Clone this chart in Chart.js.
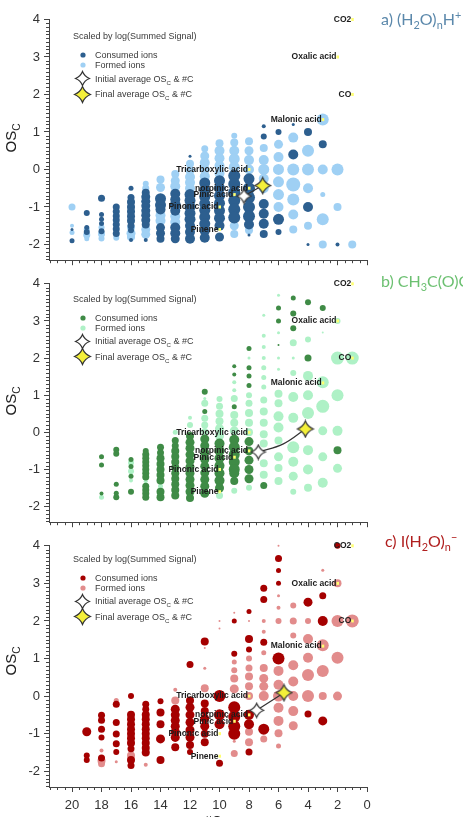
<!DOCTYPE html>
<html>
<head>
<meta charset="utf-8">
<title>OSc vs #C</title>
<script src="https://cdn.jsdelivr.net/npm/chart.js@4.4.1/dist/chart.umd.min.js"></script>
<style>
  html, body { margin: 0; padding: 0; background: #fff; }
  body { position: relative; width: 463px; height: 817px; overflow: hidden; font-family: "Liberation Sans", Arial, sans-serif; color: #333; }
  canvas { position: absolute; left: 0; }
  .ytitle { position: absolute; width: 60px; height: 20px; line-height: 20px; text-align: center; font-size: 15px; color: #222; transform: rotate(-90deg); white-space: nowrap; }
  .tag { position: absolute; font-family: Lato, "Open Sans", sans-serif; font-size: 16px; line-height: 20px; white-space: nowrap; }
  .legend { position: absolute; left: 0; width: 240px; height: 90px; font-size: 9px; color: #3a3a3a; }
  .legend div, .legend svg { position: absolute; white-space: nowrap; }
  .legend div { line-height: 12px; }
  sub, sup { font-size: 0.68em; line-height: 0; }
  .xtitle { position: absolute; left: 204px; top: 813px; font-size: 14px; color: #222; }
</style>
</head>
<body>
<canvas id="chartA"></canvas>
<canvas id="chartB"></canvas>
<canvas id="chartC"></canvas>
<div class="xtitle">#C</div>
<script>
// ---- data: [#C, OSc, bubble radius ~ log(summed signal)] ----
const aFormed = [
  [20,-1.0,3.5],[20,-1.5,2],[20,-1.68,2.5],
  [19,-1.6,3],[19,-1.75,3.5],[19,-1.85,2.5],
  [18,-1.55,3],[18,-1.72,3.5],[18,-1.84,3],
  [17,-1.82,3],
  [16,-1.55,4],[16,-1.7,4.5],[16,-1.8,4],
  [15,-0.38,3],[15,-0.5,3.5],[15,-1.6,4.5],[15,-1.73,4.5],
  [14,-0.27,4],[14,-0.48,4.5],[14,-1.22,5],[14,-1.37,5],
  [13,-0.12,4],[13,-0.3,4.5],[13,-0.45,5],[13,-1.25,5],[13,-1.4,5],
  [12,0.15,4],[12,-0.03,4.5],[12,-0.2,5],[12,-0.35,5],[12,-0.5,5],
  [11,0.55,3.5],[11,0.36,4.5],[11,0.18,5],[11,0.0,5],[11,-0.18,5],
  [10,0.7,4],[10,0.5,5],[10,0.3,5],[10,0.1,5],[10,-0.1,5],
  [9,0.9,3],[9,0.72,4],[9,0.5,5],[9,0.28,5.5],[9,0.06,5.5],[9,-1.5,4.5],[9,-1.72,4],
  [8,0.75,4],[8,0.5,4.5],[8,0.25,5],[8,0.0,5],[8,-1.62,4],
  [7,0.57,4],[7,0.25,5],[7,0.0,5.5],[7,-0.25,5],[7,-0.5,5],
  [6,0.67,4.5],[6,0.33,5],[6,0.0,5.5],[6,-0.33,5.5],[6,-0.67,5.5],[6,-1.0,5],
  [5,0.85,5],[5,0.0,6],[5,-0.4,7],[5,-0.8,6],[5,-1.2,5],[5,-1.6,4],
  [4,0.5,6],[4,0.0,6],[4,-0.5,5],[4,-1.5,4],
  [3,1.33,6],[3,0.0,5],[3,-0.67,2.5],[3,-1.33,6],[3,-2.0,4],
  [2,0.0,6],[2,-1.0,4],
  [1,-2.0,4]
];
const aConsumed = [
  [20,-1.6,1.5],[20,-1.9,2.5],
  [19,-1.16,3],[19,-1.55,2.5],[19,-1.67,3],
  [18,-0.77,3.5],[18,-1.2,2.5],[18,-1.33,2.5],[18,-1.44,2.5],[18,-1.65,3],
  [17,-1.0,3.5],[17,-1.12,3.5],[17,-1.24,3.5],[17,-1.35,3.5],[17,-1.47,3.5],[17,-1.59,3.5],[17,-1.71,3.5],
  [16,-0.5,2.5],[16,-0.75,3.5],[16,-0.87,4],[16,-1.0,4],[16,-1.12,4],[16,-1.25,4],[16,-1.37,4],[16,-1.5,3.5],[16,-1.62,3],[16,-1.88,2],
  [15,-0.62,4],[15,-0.73,4.5],[15,-0.85,4.5],[15,-0.97,4.5],[15,-1.1,4.5],[15,-1.22,4.5],[15,-1.35,4.5],[15,-1.47,4],[15,-1.88,2],
  [14,-0.78,5.5],[14,-0.95,5.5],[14,-1.07,5],[14,-1.55,4.5],[14,-1.7,4.5],[14,-1.85,4],
  [13,-0.65,5],[13,-0.8,5],[13,-0.95,5.5],[13,-1.1,5],[13,-1.55,5],[13,-1.7,5],[13,-1.85,4.5],
  [12,0.35,1.5],[12,-0.67,5.5],[12,-0.83,5.5],[12,-1.0,5.5],[12,-1.17,5.5],[12,-1.33,5.5],[12,-1.5,5],[12,-1.67,5],[12,-1.85,5],
  [11,-0.36,5.5],[11,-0.55,5.5],[11,-0.73,5.5],[11,-0.91,5.5],[11,-1.09,5.5],[11,-1.27,5.5],[11,-1.45,5.5],[11,-1.64,5],[11,-1.82,5],
  [10,-0.3,5.5],[10,-0.5,5.5],[10,-0.7,5.5],[10,-0.9,5.5],[10,-1.1,5.5],[10,-1.3,5.5],[10,-1.5,5],[10,-1.8,4.5],
  [9,-0.17,6],[9,-0.39,6],[9,-0.61,6],[9,-0.83,6],[9,-1.06,6],[9,-1.28,6],
  [8,-0.25,5.5],[8,-0.5,6],[8,-0.75,6],[8,-1.0,6],[8,-1.25,6],[8,-1.47,5],[8,-1.75,1.5],
  [7,1.15,2],[7,0.88,3],[7,-0.92,5],[7,-1.18,5],[7,-1.45,5],[7,-1.72,4],
  [6,1.0,3],[6,-1.33,5.5],[6,-1.67,3],
  [5,1.2,1.5],[5,0.4,5],
  [4,1.0,4],[4,-1.0,5],[4,-2.0,1.5],
  [3,0.67,4],
  [2,-2.0,2]
];

const bFormed = [
  [18,-1.75,2.5],
  [16,-0.82,3],[16,-1.05,3],[16,-1.3,2],
  [15,-1.32,2],
  [14,-1.45,2.5],
  [13,0.0,2.5],
  [12,0.39,2],[12,0.2,3],
  [11,0.91,1.5],[11,0.78,3.5],[11,0.38,3.5],[11,0.2,3.5],[11,0.02,3.5],
  [10,0.9,3],[10,0.7,3.5],[10,0.5,4],[10,0.3,4],[10,0.1,4.5],[10,-0.1,4.5],[10,-1.7,3.5],
  [9,1.35,2],[9,1.13,2],[9,0.91,3.5],[9,0.47,4],[9,0.26,4],[9,0.04,4.5],[9,-1.57,3],
  [8,2.0,1.5],[8,1.0,3],[8,0.78,3.5],[8,0.52,4],[8,0.26,4],[8,0.0,4],[8,-1.49,3],
  [7,3.15,1.5],[7,2.6,2],[7,2.3,2],[7,2.0,2],[7,1.74,2.5],[7,1.48,2.5],[7,1.22,2.5],[7,0.87,3.5],[7,0.56,4],[7,0.26,4],[7,-0.05,4],[7,-0.3,4],[7,-0.83,4],[7,-1.14,4],
  [6,3.69,1.5],[6,2.68,1.5],[6,2.0,1.5],[6,1.7,1.5],[6,1.04,4],[6,0.78,4],[6,0.43,5],[6,0.13,5],[6,-0.22,4],[6,-0.66,4.5],[6,-0.96,4],[6,-1.31,4],
  [5,2.41,3.5],[5,2.0,1.5],[5,1.6,3],[5,0.95,5],[5,0.39,5],[5,-0.4,6],[5,-0.79,5],[5,-1.18,4.5],[5,-1.6,3],
  [4,2.5,3],[4,1.52,5],[4,1.0,5],[4,0.52,6],[4,-0.48,5],[4,-1.0,5],[4,-1.49,4],
  [3,2.69,1],[3,1.35,6],[3,0.7,6.5],[3,0.04,4.5],[3,-0.66,4.5],[3,-1.36,5],
  [2,3.0,3],[2,2.0,6.5],[2,1.0,6],[2,0.04,5],[2,-0.97,4.5],
  [1,2.0,6.5]
];
const bConsumed = [
  [18,-0.66,2.5],[18,-0.88,2.5],[18,-1.65,2],
  [17,-0.47,3],[17,-0.58,3],[17,-1.4,2.5],[17,-1.64,2.5],[17,-1.75,3],
  [16,-0.73,2.5],[16,-0.92,2.5],[16,-1.18,2.5],[16,-1.6,3],
  [15,-0.5,3],[15,-0.6,3.5],[15,-0.7,3.5],[15,-0.8,3.5],[15,-0.9,3.5],[15,-1.0,3.5],[15,-1.1,3.5],[15,-1.2,3.5],[15,-1.45,3.5],[15,-1.55,3.5],[15,-1.65,3.5],[15,-1.75,3.5],
  [14,-0.4,3.5],[14,-0.55,3.5],[14,-0.7,4],[14,-0.85,4],[14,-1.0,4],[14,-1.15,4],[14,-1.3,4],[14,-1.6,4],[14,-1.75,4],
  [13,-0.22,3.5],[13,-0.36,3.5],[13,-0.5,4],[13,-0.65,4],[13,-0.8,4],[13,-0.95,4],[13,-1.1,4],[13,-1.25,4],[13,-1.4,4],[13,-1.55,4],[13,-1.7,4],
  [12,-0.1,4],[12,-0.27,4.5],[12,-0.43,4.5],[12,-0.6,4.5],[12,-0.77,4.5],[12,-0.93,4.5],[12,-1.1,4.5],[12,-1.27,4.5],[12,-1.43,4.5],[12,-1.6,4.5],[12,-1.77,4],
  [11,1.09,3],[11,0.56,2.5],[11,-0.18,4.5],[11,-0.36,4.5],[11,-0.55,4.5],[11,-0.73,4.5],[11,-0.91,4.5],[11,-1.09,4.5],[11,-1.27,4.5],[11,-1.45,4.5],[11,-1.64,4.5],
  [10,-0.3,5],[10,-0.5,5],[10,-0.7,5],[10,-0.9,5],[10,-1.1,5],[10,-1.3,5],[10,-1.5,4.5],
  [9,1.78,2],[9,1.56,2],[9,0.69,2.5],[9,-0.2,5],[9,-0.4,5.5],[9,-0.6,5.5],[9,-0.8,5.5],[9,-1.0,5.5],[9,-1.1,5],[9,-1.31,4],
  [8,2.26,2.5],[8,1.74,2.5],[8,1.52,2.5],[8,1.26,2.5],[8,-0.25,4.5],[8,-0.5,4.5],[8,-0.75,4.5],[8,-1.0,4.5],[8,-1.25,4.5],
  [7,-1.43,3.5],
  [6,3.35,2.5],[6,3.0,2.5],[6,2.35,1],
  [5,3.62,2.5],[5,3.2,3],[5,2.8,3],
  [4,3.5,3],[4,2.0,3.5],
  [3,3.35,3],
  [2,-0.48,4]
];

const cFormed = [
  [18,-1.45,2],[18,-1.72,4],[18,-1.8,3.5],
  [17,-0.12,2.5],[17,-1.75,1.5],
  [16,-1.58,4],
  [15,-1.83,2],
  [13,0.17,2],[13,-0.12,4],
  [11,1.28,1],[11,0.74,1.5],[11,0.21,4],
  [10,2.0,1],[10,1.8,1],
  [9,2.22,1],[9,0.91,2.5],[9,0.69,3],[9,0.47,4],[9,0.19,4.5],[9,-1.2,1.5],[9,-1.53,3.5],
  [8,2.0,1],[8,1.0,3],[8,0.75,3.5],[8,0.52,4],[8,0.26,4],[8,0.0,4],[8,-0.95,4],[8,-1.23,4],
  [7,2.0,2],[7,1.71,2],[7,1.15,2.5],[7,0.75,4],[7,0.47,4.5],[7,0.26,4.5],[7,0.0,5],[7,-1.14,3.5],
  [6,4.0,1],[6,2.67,1.5],[6,2.35,2],[6,2.0,3],[6,0.67,5],[6,0.3,5],[6,0.0,5.5],[6,-0.31,5],[6,-0.66,5],[6,-0.99,4],[6,-1.33,2.5],
  [5,2.41,3],[5,2.0,3.5],[5,1.61,3],[5,0.82,5],[5,0.39,5],[5,0.0,5],[5,-0.4,5],[5,-0.79,4.5],
  [4,2.0,3],[4,1.52,5],[4,1.02,5],[4,0.56,6],[4,0.0,6],
  [3,3.35,1.5],[3,1.35,6],[3,0.67,6],[3,0.0,4],
  [2,3.0,4],[2,2.0,6],[2,1.02,6],[2,0.0,4.5],
  [1,2.0,6.5]
];
const cConsumed = [
  [19,-0.95,4.5],[19,-1.58,3],[19,-1.7,3],
  [18,-0.51,3.5],[18,-0.64,3.5],[18,-0.88,3.5],[18,-1.1,3],[18,-1.65,3.5],
  [17,-0.22,3.5],[17,-0.7,3.5],[17,-1.01,3.5],[17,-1.27,3.5],[17,-1.49,3],
  [16,0.0,3],[16,-0.5,4],[16,-0.62,4],[16,-0.75,4],[16,-0.88,4],[16,-1.0,4],[16,-1.12,4],[16,-1.25,4],[16,-1.4,3.5],[16,-1.7,4],[16,-1.85,3.5],
  [15,-0.22,3.5],[15,-0.35,3.5],[15,-0.5,4],[15,-0.62,4],[15,-0.75,4],[15,-0.88,4],[15,-1.0,4],[15,-1.12,4],[15,-1.25,4],[15,-1.38,4],[15,-1.5,4],
  [14,-0.14,3],[14,-0.44,4],[14,-0.75,4],[14,-1.14,4.5],[14,-1.7,4],
  [13,-0.35,4.5],[13,-0.5,4.5],[13,-0.65,4.5],[13,-0.8,4.5],[13,-0.95,4.5],[13,-1.1,4.5],[13,-1.36,4],
  [12,0.84,3.5],[12,-0.12,4],[12,-0.3,4.5],[12,-0.5,4.5],[12,-0.7,4.5],[12,-0.9,4.5],[12,-1.1,4.5],[12,-1.3,4],[12,-1.49,3],
  [11,1.45,4],[11,-0.2,4],[11,-0.4,4],[11,-0.6,4.5],[11,-0.8,4.5],[11,-1.0,4],[11,-1.23,4],
  [10,0.0,6],[10,-0.5,5.5],[10,-0.75,5],[10,-1.79,3.5],
  [9,2.0,2.5],[9,1.13,3],[9,-0.3,6],[9,-0.55,6],[9,-0.8,6],[9,-1.0,6],
  [8,2.25,2.5],[8,1.52,4],[8,1.24,3],[8,-0.5,5],[8,-0.75,5],[8,-1.49,3.5],
  [7,2.87,3.5],[7,2.57,3.5],[7,1.43,3.5],[7,-0.88,5.5],
  [6,3.66,3.5],[6,3.34,2.5],[6,3.0,2.5],[6,1.0,6],
  [4,2.5,4.5],[4,-0.48,3.5],
  [3,2.67,3.5],[3,2.0,5],[3,-0.66,4.5],
  [2,4.0,3]
];

// average OSc & #C: first point = initial, last point = final
const aPath = [[8.34,-0.71],[7.07,-0.43]];
const bPath = [[7.37,-0.53],[5.67,-0.31],[4.18,0.09]];
const cPath = [[7.48,-0.38],[5.63,0.09]];

// labelled compounds
const compoundNames = ['Pinene','Pinonic acid','Pinic acid','norpinic acid','Tricarboxylic acid','Malonic acid','Oxalic acid','CO','CO2'];
const compoundC = [10,10,9,8,8,3,2,1,1];
const compoundOSc = [-1.6,-1.0,-0.67,-0.5,0,1.33,3,2,4];

const yTicks = [-2,-1,0,1,2,3,4];
const xTicks = [0,2,4,6,8,10,12,14,16,18,20];

const FONT = '"Liberation Sans", Arial, sans-serif';

// white / yellow four-pointed star used for the average markers
function starImage(fill, size) {
    const c = document.createElement('canvas');
    c.width = c.height = size + 3;
    const g = c.getContext('2d');
    const m = (size + 3) / 2, h = size / 2, k = h * 0.28;
    g.beginPath();
    g.moveTo(m, m - h);
    g.quadraticCurveTo(m + k, m - k, m + h, m);
    g.quadraticCurveTo(m + k, m + k, m, m + h);
    g.quadraticCurveTo(m - k, m + k, m - h, m);
    g.quadraticCurveTo(m - k, m - k, m, m - h);
    g.closePath();
    g.fillStyle = fill;
    g.fill();
    g.lineWidth = 1.2;
    g.strokeStyle = '#333';
    g.stroke();
    return c;
}
const whiteStar = starImage('#ffffff', 14);
const yellowStar = starImage('#f4f03a', 16);

// small minor ticks that chart.js can't do by itself
const minorTicks = {
    id: 'minorTicks',
    afterDraw(chart) {
        const { ctx, chartArea: area, scales: { x, y } } = chart;
        ctx.save();
        ctx.strokeStyle = '#444';
        ctx.lineWidth = 1;
        ctx.beginPath();
        for (let v = -24; v <= 40; v++) {
            if (v % 10 === 0) continue;
            const py = Math.round(y.getPixelForValue(v / 10)) + 0.5;
            ctx.moveTo(area.left, py);
            ctx.lineTo(area.left - 3, py);
        }
        for (let v = 1; v <= 43; v++) {
            if (v % 4 === 0) continue;
            const px = Math.round(x.getPixelForValue(v / 2)) + 0.5;
            ctx.moveTo(px, area.bottom);
            ctx.lineTo(px, area.bottom + 3);
        }
        ctx.stroke();
        ctx.restore();
    }
};

// compound names, drawn right after the consumed ions
const compoundLabels = {
    id: 'compoundLabels',
    afterDatasetDraw(chart, args) {
        if (args.index !== 1) return;
        const { ctx, scales: { x, y } } = chart;
        ctx.save();
        ctx.font = 'bold 8.5px ' + FONT;
        ctx.textAlign = 'right';
        ctx.textBaseline = 'middle';
        compoundNames.forEach((name, i) => {
            const px = x.getPixelForValue(compoundC[i]);
            const py = y.getPixelForValue(compoundOSc[i]);
            ctx.fillStyle = '#1c1c1c';
            ctx.fillText(name, px - 1, py);
            ctx.fillStyle = '#ffff70';
            ctx.fillRect(px - 1, py - 1.5, 2.5, 3);
        });
        ctx.restore();
    }
};

const toBubbles = (rows) => rows.map(([x, y, r]) => ({ x, y, r }));
const toPoints = (rows) => rows.map(([x, y]) => ({ x, y }));

const panels = [
    { id: 'chartA', top: 0, height: 272, chartTop: 19.5, padBottom: 1, xHeight: 6, showX: false,
      formed: aFormed, consumed: aConsumed, path: aPath, dark: '#2d5f8f', light: '#9fd0f4',
      tag: 'a) (H<sub>2</sub>O)<sub>n</sub>H<sup>+</sup>', tagColor: '#5b88ab', tagLeft: 381 },
    { id: 'chartB', top: 272, height: 262, chartTop: 10, padBottom: 1, xHeight: 6, showX: false,
      formed: bFormed, consumed: bConsumed, path: bPath, dark: '#3f8b46', light: '#aef1c6',
      tag: 'b) CH<sub>3</sub>C(O)O<sup>&minus;</sup>', tagColor: '#6cc071', tagLeft: 381 },
    { id: 'chartC', top: 534, height: 283, chartTop: 8, padBottom: 0, xHeight: 30, showX: true,
      formed: cFormed, consumed: cConsumed, path: cPath, dark: '#a50000', light: '#e28c8c',
      tag: 'c) I(H<sub>2</sub>O)<sub>n</sub><sup>&minus;</sup>', tagColor: '#b01e1e', tagLeft: 385 }
];

function starSvg(fill, size) {
    const h = size / 2, k = h * 0.28, m = h + 1.5;
    return `<svg width="${size + 3}" height="${size + 3}" style="left:${82.7 - m}px;top:-${m}px">` +
        `<path d="M${m} ${m - h} Q${m + k} ${m - k} ${m + h} ${m} Q${m + k} ${m + k} ${m} ${m + h} ` +
        `Q${m - k} ${m + k} ${m - h} ${m} Q${m - k} ${m - k} ${m} ${m - h}Z" fill="${fill}" stroke="#333" stroke-width="1.2"/></svg>`;
}

function addLegend(p) {
    const top = p.top + p.chartTop;
    const box = document.createElement('div');
    box.className = 'legend';
    box.style.top = top + 'px';
    const row = (y, icon, text) =>
        `<div style="left:0;top:${y}px;width:1px;height:1px">${icon}</div>` +
        `<div style="left:95px;top:${y - 6}px">${text}</div>`;
    const dot = (c) => `<svg width="6" height="6" style="left:80.3px;top:-3px"><circle cx="3" cy="3" r="2.6" fill="${c}"/></svg>`;
    box.innerHTML =
        `<div style="left:73px;top:${16.5 - 6}px">Scaled by log(Summed Signal)</div>` +
        row(35.5, dot(p.dark), 'Consumed ions') +
        row(45.5, dot(p.light), 'Formed ions') +
        row(59, starSvg('#ffffff', 14), 'Initial average OS<sub>C</sub> &amp; #C') +
        row(74.5, starSvg('#f4f03a', 16), 'Final average OS<sub>C</sub> &amp; #C');
    document.body.appendChild(box);

    const tag = document.createElement('div');
    tag.className = 'tag';
    tag.style.left = p.tagLeft + 'px';
    tag.style.top = (top - 11) + 'px';
    tag.style.color = p.tagColor;
    tag.innerHTML = p.tag;
    document.body.appendChild(tag);

    const yt = document.createElement('div');
    yt.className = 'ytitle';
    yt.innerHTML = 'OS<sub>C</sub>';
    const centre = top + 122.5 - 4;
    yt.style.left = (11 - 30) + 'px';
    yt.style.top = (centre - 10) + 'px';
    document.body.appendChild(yt);
}

panels.forEach((p) => {
    const canvas = document.getElementById(p.id);
    canvas.width = 463;
    canvas.height = p.height;
    canvas.style.top = p.top + 'px';

    new Chart(canvas.getContext('2d'), {
        type: 'bubble',
        data: {
            datasets: [
                { label: 'Formed ions', data: toBubbles(p.formed), backgroundColor: p.light, borderWidth: 0, order: 4, clip: false },
                { label: 'Consumed ions', data: toBubbles(p.consumed), backgroundColor: p.dark, borderWidth: 0, order: 3, clip: false },
                { type: 'line', label: 'path', data: toPoints(p.path), borderColor: '#333', borderWidth: 1.2,
                  pointRadius: 0, tension: 0.4, fill: false, order: 2, clip: false },
                { type: 'scatter', label: 'Initial average', data: toPoints(p.path.slice(0, 1)),
                  pointStyle: whiteStar, order: 1, clip: false },
                { type: 'scatter', label: 'Final average', data: toPoints(p.path.slice(-1)),
                  pointStyle: yellowStar, order: 0, clip: false }
            ]
        },
        options: {
            responsive: false,
            animation: false,
            devicePixelRatio: 1,
            events: [],
            layout: { padding: { left: 0, right: 96, top: p.chartTop, bottom: p.padBottom } },
            plugins: { legend: { display: false }, tooltip: { enabled: false } },
            scales: {
                x: {
                    type: 'linear', min: 0, max: 21.56, reverse: true,
                    afterFit: (s) => { s.height = p.xHeight; },
                    afterBuildTicks: (s) => { s.ticks = xTicks.map((v) => ({ value: v })); },
                    border: { color: '#444' },
                    grid: { drawOnChartArea: false, tickLength: 5, color: '#444' },
                    ticks: { display: p.showX, color: '#333', padding: 6, maxRotation: 0, autoSkip: false,
                             font: { size: 13, family: FONT } }
                },
                y: {
                    type: 'linear', min: -2.42, max: 4,
                    afterFit: (s) => { s.width = 49; },
                    afterBuildTicks: (s) => { s.ticks = yTicks.map((v) => ({ value: v })); },
                    border: { color: '#444' },
                    grid: { drawOnChartArea: false, tickLength: 5, color: '#444' },
                    ticks: { color: '#333', padding: 4, font: { size: 13, family: FONT } }
                }
            }
        },
        plugins: [minorTicks, compoundLabels]
    });

    addLegend(p);
});
</script>
</body>
</html>
